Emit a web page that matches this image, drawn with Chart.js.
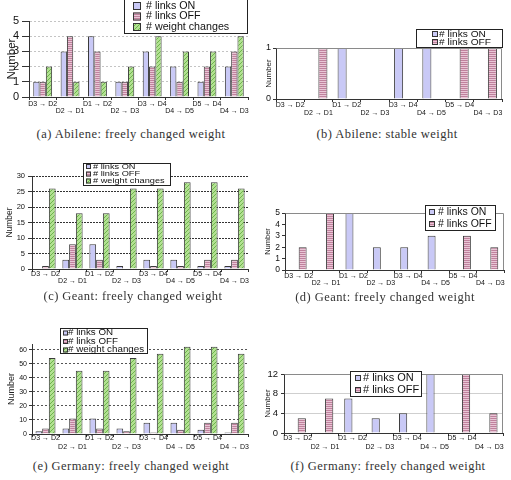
<!DOCTYPE html>
<html><head><meta charset="utf-8">
<script src="https://cdn.jsdelivr.net/npm/chart.js@4/dist/chart.umd.min.js"></script>
<style>
body{margin:0;width:511px;height:480px;background:#fff;position:relative;overflow:hidden}
.cap{position:absolute;font-family:"Liberation Serif",serif;font-size:12.5px;letter-spacing:0.45px;color:#333;white-space:nowrap;transform:translate(-50%,-50%);z-index:5}
</style></head><body>
<script>
const categories = ["D3 → D2","D2 → D1","D1 → D2","D2 → D3","D3 → D4","D4 → D5","D5 → D4","D4 → D3"];
const labelOn = "# links ON";
const labelOff = "# links OFF";
const labelWeight = "# weight changes";

const abileneFreeOn = [1,3,4,1,3,2,1,2];
const abileneFreeOff = [1,4,3,1,2,1,2,3];
const abileneFreeWeight = [2,1,1,2,4,3,3,4];
const abileneStableOn = [0,0,1,0,1,1,0,0];
const abileneStableOff = [0,1,0,0,0,0,1,1];
const geantFreeOn = [0,3,8,1,3,3,1,1];
const geantFreeOff = [1,8,3,0,1,1,3,3];
const geantFreeWeight = [26,18,18,26,26,28,28,26];
const geantFree2On = [0,0,5,2,2,3,0,0];
const geantFree2Off = [2,5,0,0,0,0,3,2];
const germanyFreeOn = [2,4,11,4,8,8,3,1];
const germanyFreeOff = [4,11,4,2,1,3,8,8];
const germanyFreeWeight = [54,45,45,54,57,62,62,57];
const germanyFree2On = [0,0,7,3,4,12,0,0];
const germanyFree2Off = [3,7,0,0,0,0,12,4];
const yTitle = "Number";
const captions = [
  ["(a) Abilene: freely changed weight",131,134],
  ["(b) Abilene: stable weight",387,134],
  ["(c) Geant: freely changed weight",133,296],
  ["(d) Geant: freely changed weight",385,297],
  ["(e) Germany: freely changed weight",131,466],
  ["(f) Germany: freely changed weight",388,466]
];

function makePattern(base, line, kind) {
  const c = document.createElement('canvas'); c.width = 4; c.height = 4;
  const g = c.getContext('2d');
  g.fillStyle = base; g.fillRect(0,0,4,4);
  g.fillStyle = line;
  if (kind === 'h') { g.fillRect(0,0,4,1); g.fillRect(0,2,4,1); }
  else { for (let i=0;i<4;i++) g.fillRect(i,3-i,1,1); }
  return g.createPattern(c,'repeat');
}
const colOn = '#c9c9f6';
const colOff = makePattern('#e9c6d6','#c0819d','h');
const colW = makePattern('#b2e192','#6eb44c','d');

function ds(label, data, bg) {
  return {label, data, backgroundColor: bg, borderColor: '#3a3a3a', borderWidth: 1};
}

const boxLegend = {
  id: 'boxLegend',
  afterDraw(chart, args, o) {
    if (!o || !o.box) return;
    const ctx = chart.ctx, ox = o.ox, oy = o.oy;
    const [bx, by, bw, bh] = o.box;
    ctx.save();
    ctx.fillStyle = '#fff'; ctx.fillRect(bx-ox, by-oy, bw, bh);
    ctx.strokeStyle = '#222'; ctx.lineWidth = 1;
    ctx.strokeRect(bx-ox+0.5, by-oy+0.5, bw, bh);
    chart.data.datasets.forEach((d, i) => {
      const cy = o.rows[i] - oy;
      const s = o.ss;
      ctx.fillStyle = d.backgroundColor;
      ctx.fillRect(o.sx-ox, cy-s/2, s, s);
      ctx.strokeStyle = '#333';
      ctx.strokeRect(o.sx-ox+0.5, cy-s/2+0.5, s-1, s-1);
      ctx.fillStyle = '#111';
      ctx.font = o.fs + 'px "Liberation Sans"';
      ctx.textBaseline = 'middle';
      ctx.save(); ctx.translate(o.tx-ox, cy); ctx.scale(o.xs, 1);
      ctx.fillText(d.label, 0, 0); ctx.restore();
    });
    ctx.restore();
  }
};
const frame = {
  id: 'frame',
  afterDatasetsDraw(chart, args, o) {
    if (!o || !o.on) return;
    const a = chart.chartArea, ctx = chart.ctx;
    ctx.save(); ctx.strokeStyle = o.color; ctx.lineWidth = 1;
    ctx.beginPath();
    ctx.moveTo(Math.round(a.left)+0.5, Math.round(a.top)+0.5);
    ctx.lineTo(Math.round(a.right)-0.5, Math.round(a.top)+0.5);
    ctx.lineTo(Math.round(a.right)-0.5, Math.round(a.bottom));
    ctx.stroke(); ctx.restore();
  }
};
Chart.register(boxLegend, frame);

function makeChart(s) {
  const cv = document.createElement('canvas');
  cv.width = s.W; cv.height = s.H;
  cv.style.cssText = `position:absolute;left:${s.L}px;top:${s.T}px;width:${s.W}px;height:${s.H}px`;
  document.body.appendChild(cv);
  const yW = s.x0 - s.L, xH = s.T + s.H - s.y1;
  s.legend.ox = s.L; s.legend.oy = s.T;
  new Chart(cv, {
    type: 'bar',
    data: {labels: categories, datasets: s.datasets},
    options: {
      responsive: false, animation: false, devicePixelRatio: 1,
      layout: {padding: {left: 0, top: s.y0 - s.T, right: s.L + s.W - s.x1, bottom: 0}},
      datasets: {bar: {categoryPercentage: s.cat, barPercentage: 1}},
      plugins: {legend: {display: false}, tooltip: {enabled: false}, boxLegend: s.legend, frame: {on: s.frame, color: '#8a8a8a'}},
      scales: {
        x: {
          afterFit: sc => { sc.height = xH; },
          grid: {display: true, drawOnChartArea: false, drawTicks: true, tickLength: 3, tickColor: '#333', offset: true},
          border: {display: true, color: '#333', width: 1},
          ticks: {autoSkip: false, maxRotation: 0, minRotation: 0, padding: s.xPad, color: '#111',
            font: {family: 'Liberation Sans', size: 7, lineHeight: s.xLh},
            callback: (v, i) => i % 2 === 0 ? [categories[i], ''] : ['', categories[i]]}
        },
        y: {
          min: 0, max: s.yMax,
          afterFit: sc => { sc.width = yW; },
          afterBuildTicks: sc => {
            const t = [];
            for (let k = 0; k * s.yStep <= s.yMax + 1e-9; k++) t.push({value: k * s.yStep});
            sc.ticks = t;
          },
          ticks: {autoSkip: false, stepSize: s.yStep, padding: s.yPad, color: '#111', font: {family: 'Liberation Sans', size: s.yFs},
            callback: v => String(v)},
          grid: {display: true, drawTicks: true, tickLength: s.yTl, tickColor: '#333', tickBorderDash: [],
            color: c => (c.tick && c.tick.value === 0) || !s.gridColor ? 'rgba(0,0,0,0)' : s.gridColor},
          border: {display: true, color: '#333', width: 1, dash: s.gridDash},
          title: {display: true, text: yTitle, color: '#222', padding: {top: s.tPad, bottom: 0},
            font: {family: 'Liberation Sans', size: s.tFs, lineHeight: 1}}
        }
      }
    }
  });
}

makeChart({L:0,T:0,W:256,H:122,x0:29,y0:21,x1:248,y1:97,yMax:5,yStep:1,cat:0.69,
  datasets:[ds(labelOn,abileneFreeOn,colOn),ds(labelOff,abileneFreeOff,colOff),ds(labelWeight,abileneFreeWeight,colW)],
  xPad:0,xLh:1.07,yPad:3,yTl:7,yFs:11,tPad:6,tFs:11.5,gridColor:'#c4c4c4',gridDash:[2,2],frame:false,
  legend:{box:[124,-3,123,36],rows:[6,16.5,27],sx:133,ss:8,tx:146,fs:10.7,xs:1}});
makeChart({L:256,T:0,W:255,H:122,x0:276,y0:48,x1:502,y1:99,yMax:1,yStep:1,cat:0.64,
  datasets:[ds(labelOn,abileneStableOn,colOn),ds(labelOff,abileneStableOff,colOff)],
  xPad:-1,xLh:1.14,yPad:2,yTl:3,yFs:9,tPad:9,tFs:8,gridColor:null,gridDash:[],frame:true,
  legend:{box:[416,29,86,18],rows:[34,42],sx:432,ss:6,tx:439,fs:9.5,xs:1.07}});
makeChart({L:0,T:150,W:256,H:140,x0:32,y0:176,x1:248,y1:269,yMax:30,yStep:5,cat:0.75,
  datasets:[ds(labelOn,geantFreeOn,colOn),ds(labelOff,geantFreeOff,colOff),ds(labelWeight,geantFreeWeight,colW)],
  xPad:-1.5,xLh:1,yPad:3,yTl:4,yFs:7.5,tPad:5.75,tFs:8.5,gridColor:'#333',gridDash:[2,1],frame:false,
  legend:{box:[83,163,87,22],rows:[166.5,174,181],sx:86,ss:5,tx:93,fs:8,xs:1.15}});
makeChart({L:256,T:150,W:255,H:140,x0:285,y0:213,x1:504,y1:270,yMax:5,yStep:1,cat:0.58,
  datasets:[ds(labelOn,geantFree2On,colOn),ds(labelOff,geantFree2Off,colOff)],
  xPad:-0.5,xLh:1,yPad:2,yTl:3,yFs:8.5,tPad:8.5,tFs:7.5,gridColor:null,gridDash:[],frame:true,
  legend:{box:[425,205,70,25],rows:[212,224],sx:429,ss:6,tx:438,fs:10,xs:1.05}});
makeChart({L:0,T:310,W:256,H:145,x0:32,y0:344,x1:248,y1:434,yMax:64,yStep:10,cat:0.74,
  datasets:[ds(labelOn,germanyFreeOn,colOn),ds(labelOff,germanyFreeOff,colOff),ds(labelWeight,germanyFreeWeight,colW)],
  xPad:-3.5,xLh:1.28,yPad:2,yTl:3,yFs:7,tPad:7.5,tFs:9,gridColor:'#555',gridDash:[2,2],frame:false,
  legend:{box:[60,328,87,25],rows:[333,341.5,350],sx:63,ss:5,tx:68,fs:8.5,xs:1.15}});
makeChart({L:256,T:310,W:255,H:145,x0:284,y0:374,x1:503,y1:433,yMax:12,yStep:4,cat:0.6,
  datasets:[ds(labelOn,germanyFree2On,colOn),ds(labelOff,germanyFree2Off,colOff)],
  xPad:-2.5,xLh:1.28,yPad:3,yTl:3,yFs:9.5,tPad:8,tFs:8,gridColor:'#cfcfcf',gridDash:[],frame:true,
  legend:{box:[350,371,71,25],rows:[378,390],sx:355,ss:6,tx:363,fs:11,xs:1}});

captions.forEach(([t, x, y]) => {
  const d = document.createElement('div');
  d.className = 'cap'; d.textContent = t;
  d.style.left = x + 'px'; d.style.top = y + 'px';
  document.body.appendChild(d);
});
</script>
</body></html>
